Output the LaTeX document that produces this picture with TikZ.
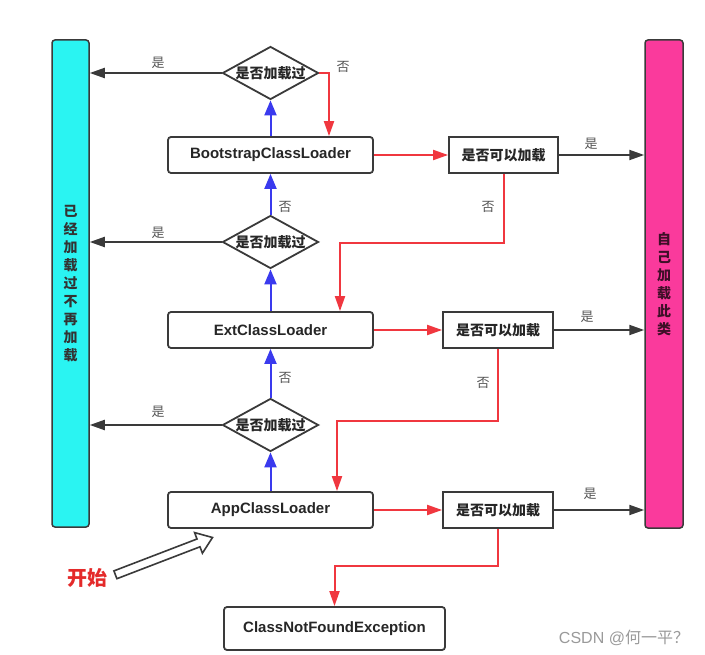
\documentclass[tikz,border=0pt]{standalone}
\usepackage{fontspec}
\setmainfont{Liberation Sans}
\newfontfamily\cjk{Noto Sans CJK SC}
\usetikzlibrary{arrows.meta,shapes.geometric,calc}
\definecolor{cyanbar}{HTML}{2AF4F2}
\definecolor{pinkbar}{HTML}{FA3A9C}
\definecolor{redl}{HTML}{F0373F}
\definecolor{bluel}{HTML}{3A3AEE}
\definecolor{darkl}{HTML}{3A3A3A}
\definecolor{lbl}{HTML}{555555}
\definecolor{wm}{HTML}{9A9A9A}
\definecolor{startred}{HTML}{E42A2A}
\tikzset{
  bar/.style={draw=darkl, line width=1.5pt, rounded corners=3pt, inner sep=0pt, align=center,
    font=\cjk\bfseries\fontsize{14}{18}\selectfont, text=black!80},
  loader/.style={draw=darkl, line width=1.8pt, rounded corners=3pt, minimum width=205pt,
    minimum height=36pt, inner sep=0pt, font=\bfseries\fontsize{15}{18}\selectfont, text=black!85},
  check/.style={draw=darkl, line width=1.8pt, minimum width=110pt, minimum height=36pt,
    inner sep=0pt, font=\cjk\bfseries\fontsize{14}{17}\selectfont, text=black!85},
  dia/.style={diamond, draw=darkl, line width=1.8pt, minimum width=96pt, minimum height=53pt, inner sep=0pt},
  dtext/.style={font=\cjk\bfseries\fontsize{14}{17}\selectfont, inner sep=0pt, text=black!85},
  lab/.style={font=\cjk\fontsize{13}{15}\selectfont, text=lbl, inner sep=0pt},
  ar/.style={line width=2pt, -{Triangle[length=15pt,width=10pt]}},
  redar/.style={ar, color=redl},
  bluear/.style={ar, color=bluel, -{Triangle[length=15pt,width=12pt]}},
  blkar/.style={ar, color=darkl}
}
\begin{document}
\begin{tikzpicture}[x=1pt,y=-1pt]
\fill[white] (0,0) rectangle (705,655);
\useasboundingbox (0,0) rectangle (705,655);

% side bars
\node[bar, fill=cyanbar, minimum width=37pt, minimum height=487pt] (cyan) at (70.5,283.5)
  {已\\经\\加\\载\\过\\不\\再\\加\\载};
\node[bar, fill=pinkbar, minimum width=38pt, minimum height=488pt, text=black!75!pinkbar] (pink) at (664,284)
  {自\\己\\加\\载\\此\\类};

% loaders
\node[loader] (boot) at (270.5,155) {BootstrapClassLoader};
\node[loader] (ext)  at (270.5,330) {ExtClassLoader};
\node[loader] (app)  at (270.5,510) {AppClassLoader};
\node[loader, minimum width=221pt, minimum height=43pt] (cnfe) at (334.5,628.5) {ClassNotFoundException};

% check boxes
\node[check, minimum width=109pt] (c1) at (503.5,155) {是否可以加载};
\node[check] (c2) at (498,330) {是否可以加载};
\node[check] (c3) at (498,510) {是否可以加载};

% diamonds
\node[dia] (d1) at (270.5,73) {};
\node[dtext] (d1t) at (d1) {是否加载过};
\node[dia] (d2) at (270.5,242) {};
\node[dtext] (d2t) at (d2) {是否加载过};
\node[dia] (d3) at (270.5,425) {};
\node[dtext] (d3t) at (d3) {是否加载过};

% connectors
\draw[blkar] (d1.west) -- (d1.west -| cyan.east);
\draw[redar] (d1.east) -| ([xshift=58.5pt]boot.north);
\draw[bluear] (boot.north) -- (d1.south);
\draw[redar] (boot.east) -- (c1.west);
\draw[blkar] (c1.east) -- (c1.east -| pink.west);
\coordinate (k1) at (340,243);
\draw[redar] (c1.south) |- (k1) -- (k1 |- ext.north);
\draw[bluear] (d2.north) -- (boot.south);
\draw[bluear] (ext.north) -- (d2.south);
\draw[blkar] (d2.west) -- (d2.west -| cyan.east);
\draw[redar] (ext.east) -- (c2.west);
\draw[blkar] (c2.east) -- (c2.east -| pink.west);
\coordinate (k2) at (337,421);
\draw[redar] (c2.south) |- (k2) -- (k2 |- app.north);
\draw[bluear] (d3.north) -- (ext.south);
\draw[bluear] (app.north) -- (d3.south);
\draw[blkar] (d3.west) -- (d3.west -| cyan.east);
\draw[redar] (app.east) -- (c3.west);
\draw[blkar] (c3.east) -- (c3.east -| pink.west);
\draw[redar] (c3.south) |- ([yshift=40pt]cnfe.north) -- (cnfe.north);

% labels
\node[lab] (l1) at (158,63) {是};
\node[lab] (l2) at (343,67) {否};
\node[lab] (l3) at (591,144) {是};
\node[lab] (l4) at (488,207) {否};
\node[lab] (l5) at (285,207) {否};
\node[lab] (l6) at (158,233) {是};
\node[lab] (l7) at (587,317) {是};
\node[lab] (l8) at (483,383) {否};
\node[lab] (l9) at (285,378) {否};
\node[lab] (l10) at (158,412) {是};
\node[lab] (l11) at (590,494) {是};

% start arrow
\draw[darkl, line width=1.6pt, fill=white, line join=miter]
  (113.9,570.9) -- (197.0,539.0) -- (194.6,532.6) -- (212.5,537.5)
  -- (202.4,553.2) -- (200.0,546.8) -- (116.9,578.7) -- cycle;
\node[font=\cjk\bfseries\fontsize{20}{22}\selectfont, text=startred, inner sep=0pt] (start) at (87,578) {开始};

% watermark
\node[font=\fontsize{16}{18}\selectfont, text=wm, inner sep=0pt] (wmark) at (624,638) {CSDN @{\cjk 何一平？}};
\end{tikzpicture}
\end{document}
